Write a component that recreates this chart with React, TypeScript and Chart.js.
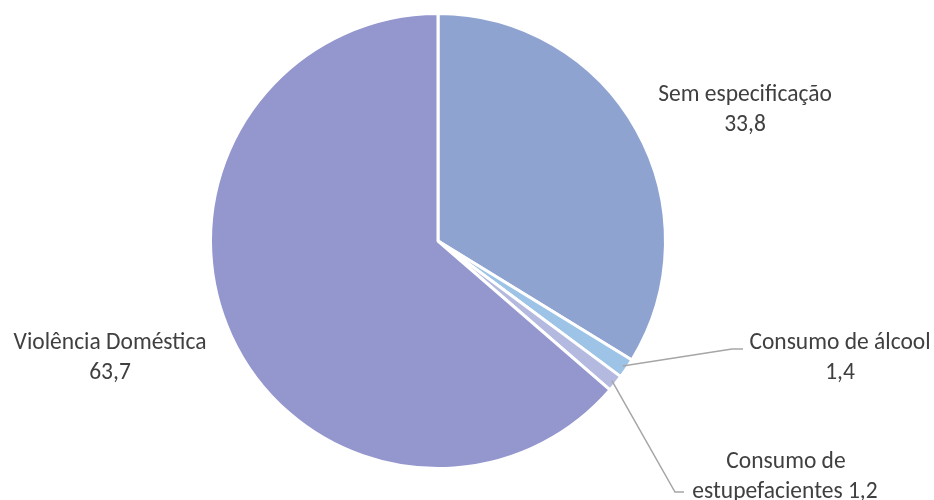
import React, { useEffect, useRef } from "react";
import { Chart, registerables } from "chart.js";

Chart.register(...registerables);

const categories = ["Sem especificação", "Consumo de álcool", "Consumo de estupefacientes", "Violência Doméstica"];
const values = [33.8, 1.4, 1.2, 63.7];
const valueLabels = ["33,8", "1,4", "1,2", "63,7"];
const colors = ["#8FA3D1", "#9DC3E6", "#B4BADF", "#9496CE"];

const FONT = "23.5px Carlito, Lato, sans-serif";
const TEXT_COLOR = "#404040";
const LINE_H = 30;

const labelPlugin = {
  id: "pieLabels",
  afterDraw(chart: any) {
    const ctx = chart.ctx as CanvasRenderingContext2D;
    const meta = chart.getDatasetMeta(0);
    const arcs = meta.data;
    const cx = arcs[0].x;
    const cy = arcs[0].y;
    const r = arcs[0].outerRadius;
    const at = (i: number, f: number) => {
      const a = arcs[i];
      const mid = (a.startAngle + a.endAngle) / 2;
      return { x: cx + Math.cos(mid) * r * f, y: cy + Math.sin(mid) * r * f };
    };
    ctx.save();
    ctx.font = FONT;
    ctx.fillStyle = TEXT_COLOR;
    ctx.textAlign = "center";
    ctx.textBaseline = "middle";
    ctx.fillText(categories[0], 745, 95);
    ctx.fillText(valueLabels[0], 745, 95 + LINE_H);
    ctx.fillText(categories[3], 110, 343);
    ctx.fillText(valueLabels[3], 110, 343 + LINE_H);
    ctx.fillText(categories[1], 840, 343);
    ctx.fillText(valueLabels[1], 840, 343 + LINE_H);
    ctx.fillText("Consumo de", 786, 462);
    ctx.fillText("estupefacientes " + valueLabels[2], 785, 462 + LINE_H);

    ctx.strokeStyle = "#A6A6A6";
    ctx.lineWidth = 1.5;
    const p1 = at(1, 0.98);
    ctx.beginPath();
    ctx.moveTo(p1.x, p1.y);
    ctx.lineTo(732, 349);
    ctx.lineTo(743, 349);
    ctx.stroke();
    const p2 = at(2, 0.98);
    ctx.beginPath();
    ctx.moveTo(p2.x, p2.y);
    ctx.lineTo(675, 492);
    ctx.lineTo(684, 492);
    ctx.stroke();
    ctx.restore();
  },
};

export default function App() {
  const ref = useRef<HTMLCanvasElement>(null);
  useEffect(() => {
    const chart = new Chart(ref.current!, {
      type: "pie",
      data: {
        labels: categories,
        datasets: [
          {
            data: values,
            backgroundColor: colors,
            borderColor: "#FFFFFF",
            borderWidth: 3,
          },
        ],
      },
      options: {
        animation: false,
        responsive: false,
        layout: { padding: { left: 209, right: 267, top: 12, bottom: 30 } },
        plugins: { legend: { display: false }, tooltip: { enabled: false } },
      },
      plugins: [labelPlugin],
    });
    return () => chart.destroy();
  }, []);
  return (
    <div style={{ position: "fixed", left: 0, top: 0, width: 934, height: 500, background: "#fff" }}>
      <canvas ref={ref} width={934} height={500} style={{ width: 934, height: 500 }} />
    </div>
  );
}
